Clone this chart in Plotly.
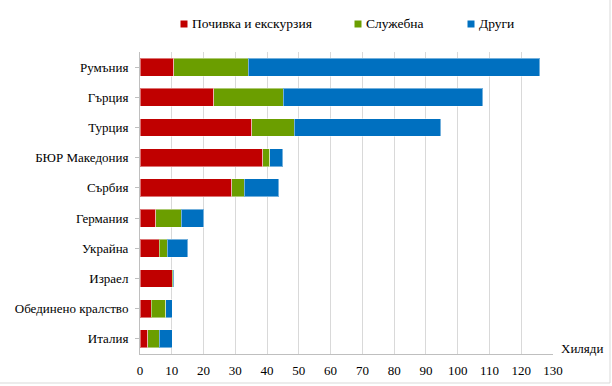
import plotly.graph_objects as go

countries = ["Румъния", "Гърция", "Турция", "БЮР Македония", "Сърбия",
             "Германия", "Украйна", "Израел", "Обединено кралство", "Италия"]
leisure = [10.7, 23.2, 35.2, 38.7, 28.8, 4.9, 6.0, 10.1, 3.5, 2.4]
business = [23.4, 21.9, 13.3, 2.2, 4.0, 8.1, 2.5, 0.4, 4.6, 3.6]
other = [91.7, 62.8, 46.2, 4.1, 10.9, 7.1, 6.6, 0.3, 2.0, 4.1]
series_names = ["Почивка и екскурзия", "Служебна", "Други"]
colors = ["#C00000", "#6B9E00", "#0070C0"]
x_ticks = list(range(0, 131, 10))

W, H = 612, 386
L, R, T, B = 140, 59, 52, 32
pw, ph = W - L - R, H - T - B
FONT = "Liberation Serif, DejaVu Serif, serif"

def px_x(px):
    return (px - L) / pw

def px_y(py):
    return (H - B - py) / ph

fig = go.Figure()
for name, vals, col in zip(series_names, [leisure, business, other], colors):
    fig.add_trace(go.Bar(
        y=countries, x=vals, name=name, orientation="h",
        marker=dict(color=col, line=dict(color="rgba(255,255,255,0.45)", width=1)),
        showlegend=False,
    ))

# legend drawn as small squares + text (positions in pixels of the page)
legend_marker_x = [184, 358, 471]
legend_y = 24
shapes = []
annotations = []
for name, col, mx in zip(series_names, colors, legend_marker_x):
    shapes.append(dict(type="rect", xref="paper", yref="paper",
                       x0=px_x(mx - 3.5), x1=px_x(mx + 3.5),
                       y0=px_y(legend_y + 3.5), y1=px_y(legend_y - 3.5),
                       fillcolor=col, line=dict(width=0)))
    annotations.append(dict(text=name, xref="paper", yref="paper",
                            x=px_x(mx + 6), y=px_y(legend_y), xanchor="left",
                            yanchor="middle", showarrow=False,
                            font=dict(family=FONT, size=13.5)))

annotations.append(dict(text="Хиляди", xref="paper", yref="paper",
                        x=px_x(605), y=px_y(348), xanchor="right", yanchor="middle",
                        showarrow=False, font=dict(family=FONT, size=13)))

shapes += [
    dict(type="line", xref="paper", yref="paper", x0=px_x(610), x1=px_x(610),
         y0=px_y(0), y1=px_y(383), line=dict(color="#D9D9D9", width=1)),
    dict(type="line", xref="paper", yref="paper", x0=px_x(0), x1=px_x(610),
         y0=px_y(383), y1=px_y(383), line=dict(color="#D9D9D9", width=1)),
]

fig.update_layout(
    width=W, height=H,
    margin=dict(l=L, r=R, t=T, b=B, autoexpand=False),
    barmode="stack", bargap=0.41,
    plot_bgcolor="white", paper_bgcolor="white",
    font=dict(family=FONT, size=13, color="black"),
    showlegend=False,
    xaxis=dict(range=[0, 130], tickvals=x_ticks, showgrid=True,
               gridcolor="#D9D9D9", gridwidth=1, showline=True,
               linecolor="#BFBFBF", linewidth=1, zeroline=False,
               ticks="", ticklabelstandoff=4,
               tickfont=dict(family=FONT, size=13), fixedrange=True,
               automargin=False),
    yaxis=dict(categoryorder="array", categoryarray=countries[::-1],
               showline=True, linecolor="#BFBFBF", linewidth=1,
               ticks="outside", ticklen=4, tickcolor="#BFBFBF",
               ticklabelstandoff=4,
               showgrid=False, tickfont=dict(family=FONT, size=13), fixedrange=True,
               automargin=False),
    annotations=annotations,
    shapes=shapes,
)

fig.write_html("out.html", config={"displayModeBar": False},
               post_script="document.body.style.margin='0';")
